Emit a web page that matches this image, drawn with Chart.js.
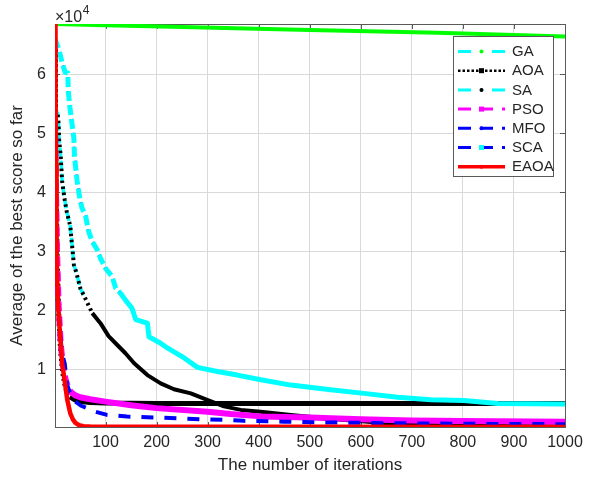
<!DOCTYPE html>
<html><head><meta charset="utf-8">
<script src="https://cdn.jsdelivr.net/npm/chart.js@4.4.1/dist/chart.umd.min.js"></script>
<style>html,body{margin:0;padding:0;background:#fff;} canvas{display:block;}</style>
</head><body>
<canvas id="c" width="593" height="481"></canvas>
<script>
// ---- data ----
const xTicks = [100,200,300,400,500,600,700,800,900,1000];
const yTicks = [1,2,3,4,5,6]; // in units of 10^4
const seriesNames = ['GA','AOA','SA','PSO','MFO','SCA','EAOA'];

const gaIter  = [1,100,250,500,750,1000];
const gaScore = [68500,68300,68000,67500,67000,66400];

const aoaIter  = [1,2,3,5,8,12,16,20,25,30,40,50,70,100,200,400,600,800,1000];
const aoaScore = [64000,52000,42000,30000,20000,13000,9500,7500,6000,5300,4800,4500,4350,4250,4200,4200,4200,4200,4200];

const saIter  = [1,6,8,9,12,15,20,24,31,33,35,38,43,51,57,74,90,106,123,139,156,182,208,234,267,299,332,365,404,463,550,633,700,800,1000];
const saScore = [54000,53400,51600,48900,46300,41800,38700,36700,34200,32200,30500,27700,26300,23600,22600,19500,17800,15600,14100,12700,11000,9000,7600,6600,5900,4800,3700,3100,2800,2250,1500,950,600,400,300];

const psoIter  = [1,3,5,8,12,16,20,22,26,31,40,50,70,100,150,200,300,345,404,500,600,698,800,1000];
const psoScore = [52000,40000,30000,21000,14500,11000,9000,8200,7100,6200,5600,5250,4900,4500,3900,3400,2800,2400,2000,1800,1530,1290,1200,1100];

const mfoIter  = [1,3,6,10,15,20,25,32,41,52,64,80,103,142,200,260,332,371,450,550,650,750,850,1000];
const mfoScore = [43000,33000,24000,17000,12500,11000,7300,5600,4500,3800,3400,2800,2250,1970,1800,1600,1400,1240,1100,950,850,780,720,680];

const scaIter  = [1,5,8,15,21,26,27,30,35,38,39,41,44,50,54,61,67,74,84,90,100,113,120,129,139,152,159,182,185,208,221,254,280,319,358,404,463,541,606,672,737,802,868,1000];
const scaScore = [66000,65000,64400,61900,60300,60200,57100,54500,51100,49100,46300,44600,42100,38700,37300,35900,33300,31600,30200,28800,27100,25700,23700,22900,21700,20300,18400,17800,15500,14400,13600,11900,10300,9600,9000,8200,7300,6500,5900,5250,4800,4700,4200,4100];

const eaoaIter  = [1,2,3,4,5,7,10,15,20,25,31,36,41,48,57,70,100,200,500,1000];
const eaoaScore = [68500,56000,45000,34000,26000,21000,17000,11000,8000,4800,2500,1500,900,500,330,270,250,240,230,220];

// ---- helpers ----
const FONT = '"Liberation Sans", Arial, Helvetica, sans-serif';
const TXT = '#262626';
const pts = (xs, ys) => xs.map((x, i) => ({x: x, y: ys[i]}));
const dashBefore = (limit, dash) => ctx => (ctx.p0.parsed.x < limit ? dash : []);

const datasets = [
  {label: seriesNames[0], data: pts(gaIter, gaScore), borderColor: '#00ff00', borderWidth: 4, order: 7,
   lg: {color: '#00ffff', dash: [13,9,3,9], marker: '#00ff00', shape: 'dot'}},
  {label: seriesNames[1], data: pts(aoaIter, aoaScore), borderColor: '#000000', borderWidth: 5, order: 6,
   segment: {borderDash: dashBefore(30, [2,3])},
   lg: {color: '#000000', dash: [2.5,2], marker: '#000000', shape: 'square', width: 2.5}},
  {label: seriesNames[2], data: pts(saIter, saScore), borderColor: '#000000', borderWidth: 4, order: 5,
   segment: {borderDash: dashBefore(60, [2.5,3.5])},
   underlay: {color: '#00ffff', dash: [9,4], width: 3.5, maxX: 62},
   lg: {color: '#00ffff', dash: [13,9,3,9], marker: '#000000', shape: 'dot'}},
  {label: seriesNames[3], data: pts(psoIter, psoScore), borderColor: '#ff00ff', borderWidth: 6, order: 4,
   segment: {borderDash: dashBefore(28, [10,5])},
   lg: {color: '#ff00ff', dash: [13,9], marker: '#ff00ff', shape: 'square'}},
  {label: seriesNames[4], data: pts(mfoIter, mfoScore), borderColor: '#0000ff', borderWidth: 4, order: 2,
   borderDash: [12,11],
   lg: {color: '#0000ff', dash: [13,9], marker: '#0000ff', shape: 'dot'}},
  {label: seriesNames[5], data: pts(scaIter, scaScore), borderColor: '#00ffff', borderWidth: 5, order: 3,
   segment: {borderDash: dashBefore(125, [10,4])},
   underlay: {color: '#0000ff', dash: [8,6], width: 3, maxX: 130},
   lg: {color: '#0000ff', dash: [13,9], marker: '#00ffff', shape: 'square'}},
  {label: seriesNames[6], data: pts(eaoaIter, eaoaScore), borderColor: '#ff0000', borderWidth: 4.5, order: 1,
   lg: {color: '#ff0000', dash: [], marker: '#ff0000', shape: 'dot', width: 3.5}}
];

// underlay: a second dashed colour under a line, through the library's own points
const underlayPlugin = {
  id: 'underlay',
  beforeDatasetDraw(chart, args) {
    const ds = chart.data.datasets[args.index];
    if (!ds.underlay) return;
    const u = ds.underlay, ctx = chart.ctx, a = chart.chartArea;
    ctx.save();
    ctx.beginPath(); ctx.rect(a.left, a.top, a.right - a.left, a.bottom - a.top); ctx.clip();
    ctx.strokeStyle = u.color; ctx.lineWidth = u.width; ctx.setLineDash(u.dash);
    ctx.beginPath();
    let started = false;
    args.meta.data.forEach((p, i) => {
      if (ds.data[i].x > u.maxX) return;
      if (!started) { ctx.moveTo(p.x, p.y); started = true; } else ctx.lineTo(p.x, p.y);
    });
    ctx.stroke();
    ctx.restore();
  }
};

// axes box + inward tick marks (MATLAB style)
const boxPlugin = {
  id: 'box',
  beforeDatasetsDraw(chart) {
    const ctx = chart.ctx, a = chart.chartArea, xs = chart.scales.x, ys = chart.scales.y;
    ctx.save();
    ctx.strokeStyle = '#5a5a5a'; ctx.lineWidth = 1; ctx.setLineDash([]);
    ctx.strokeRect(Math.round(a.left) + 0.5, Math.round(a.top) + 0.5, Math.round(a.right - a.left), Math.round(a.bottom - a.top));
    ctx.beginPath();
    xTicks.forEach(v => {
      const px = Math.round(xs.getPixelForValue(v)) + 0.5;
      ctx.moveTo(px, a.bottom); ctx.lineTo(px, a.bottom - 5);
      ctx.moveTo(px, a.top); ctx.lineTo(px, a.top + 5);
    });
    yTicks.forEach(v => {
      const py = Math.round(ys.getPixelForValue(v * 1e4)) + 0.5;
      ctx.moveTo(a.left, py); ctx.lineTo(a.left + 5, py);
      ctx.moveTo(a.right, py); ctx.lineTo(a.right - 5, py);
    });
    ctx.stroke();
    ctx.restore();
  },
  afterDraw(chart) {
    const ctx = chart.ctx;
    ctx.save();
    ctx.fillStyle = TXT;
    ctx.textBaseline = 'alphabetic';
    ctx.font = '16px ' + FONT;
    ctx.fillText('\u00d710', 55, 22);
    const w = ctx.measureText('\u00d710').width;
    ctx.font = '12px ' + FONT;
    ctx.fillText('4', 55 + w + 0.5, 14);
    ctx.restore();
  }
};

// legend inside the axes, top-right
const legendPlugin = {
  id: 'boxLegend',
  afterDraw(chart) {
    const ctx = chart.ctx;
    const bx = 453.5, by = 36.5, bw = 100, bh = 140;
    ctx.save();
    ctx.fillStyle = '#ffffff';
    ctx.fillRect(bx, by, bw, bh);
    ctx.strokeStyle = '#5a5a5a'; ctx.lineWidth = 1; ctx.setLineDash([]);
    ctx.strokeRect(bx, by, bw, bh);
    chart.data.datasets.forEach((ds, i) => {
      const y = 51.5 + i * 19.2;
      const g = ds.lg;
      ctx.strokeStyle = g.color; ctx.lineWidth = g.width || 3;
      ctx.setLineDash(g.dash);
      ctx.beginPath(); ctx.moveTo(458, y); ctx.lineTo(505, y); ctx.stroke();
      ctx.setLineDash([]);
      ctx.fillStyle = g.marker;
      if (g.shape === 'square') ctx.fillRect(479, y - 2.5, 5, 5);
      else { ctx.beginPath(); ctx.arc(481.5, y, 2, 0, Math.PI * 2); ctx.fill(); }
      ctx.fillStyle = TXT;
      ctx.font = '15px ' + FONT;
      ctx.textBaseline = 'middle';
      ctx.fillText(ds.label, 512, y + 0.5);
    });
    ctx.restore();
  }
};

new Chart(document.getElementById('c'), {
  type: 'line',
  data: {datasets: datasets},
  plugins: [underlayPlugin, boxPlugin, legendPlugin],
  options: {
    responsive: false,
    devicePixelRatio: 1,
    animation: false,
    events: [],
    layout: {padding: {top: 24, right: 28, left: 0, bottom: 0}},
    elements: {point: {radius: 0}, line: {tension: 0, borderCapStyle: 'butt', borderJoinStyle: 'round'}},
    plugins: {legend: {display: false}, tooltip: {enabled: false}},
    scales: {
      x: {
        type: 'linear', min: 1, max: 1000,
        afterBuildTicks: s => { s.ticks = xTicks.map(v => ({value: v})); },
        afterFit: s => { s.height = 54; },
        grid: {color: '#d9d9d9', drawTicks: false},
        border: {display: false},
        ticks: {color: TXT, font: {family: FONT, size: 16}, padding: 6, maxRotation: 0, autoSkip: false,
                callback: v => String(v)},
        title: {display: true, text: 'The number of iterations', color: TXT,
                font: {family: FONT, size: 17}, padding: {top: 0, bottom: 5}}
      },
      y: {
        type: 'linear', min: 200, max: 68500,
        afterBuildTicks: s => { s.ticks = yTicks.map(v => ({value: v * 1e4})); },
        afterFit: s => { s.width = 55; },
        grid: {color: '#d9d9d9', drawTicks: false},
        border: {display: false},
        ticks: {color: TXT, font: {family: FONT, size: 16}, padding: 9, autoSkip: false,
                callback: v => String(Math.round(v / 1e4))},
        title: {display: true, text: 'Average of the best score so far', color: TXT,
                font: {family: FONT, size: 17}, padding: {top: 7, bottom: 0}}
      }
    }
  }
});
</script>
</body></html>
